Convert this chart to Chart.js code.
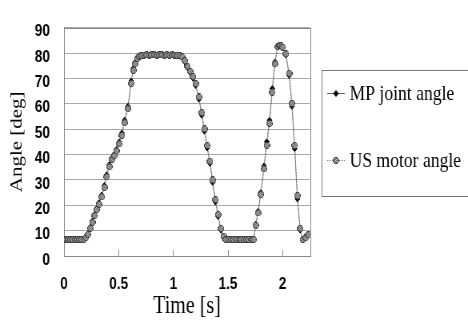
<!DOCTYPE html>
<html>
<head>
<meta charset="utf-8">
<script src="https://cdn.jsdelivr.net/npm/chart.js@4"></script>
<style>
  body { margin: 0; background: #fff; overflow: hidden; }
  /* the original figure is squeezed sideways, so draw wider and squeeze */
  #chart { transform: scaleX(0.8); transform-origin: 0 0; }
</style>
</head>
<body>
<canvas id="chart" width="585" height="327"></canvas>
<script>
var times = [
  0, 0.02, 0.04, 0.06, 0.08, 0.10, 0.12, 0.14, 0.16, 0.18, 0.20,
  0.22, 0.24, 0.26, 0.28, 0.30, 0.32, 0.345, 0.37, 0.39, 0.415, 0.44,
  0.46, 0.48, 0.505, 0.53, 0.555, 0.585, 0.615, 0.635, 0.65, 0.67, 0.69,
  0.71, 0.73, 0.755, 0.78, 0.80, 0.825, 0.85, 0.87, 0.895, 0.92, 0.94,
  0.965, 0.99, 1.01, 1.035, 1.06,
  1.08, 1.105, 1.13, 1.155, 1.18, 1.205, 1.235, 1.26, 1.285, 1.31, 1.335,
  1.36, 1.385, 1.41, 1.435, 1.46,
  1.48, 1.505, 1.53, 1.55, 1.575, 1.60, 1.62, 1.645, 1.67, 1.69, 1.715, 1.735,
  1.755, 1.775, 1.80, 1.83, 1.855, 1.88, 1.905, 1.93, 1.955, 1.97, 1.985,
  2.0, 2.03, 2.06, 2.085, 2.11, 2.135, 2.16, 2.185, 2.21, 2.235
];
var mpAngle = [
  6.5, 6.5, 6.5, 6.5, 6.5, 6.5, 6.5, 6.5, 6.5, 6.6, 7.4,
  8.8, 11.3, 13.8, 16.4, 18.8, 21, 24, 27.8, 32, 36, 38.8,
  40.2, 42, 45, 48.5, 53.5, 59, 69, 74, 76.3, 78.2, 79,
  79.1, 79.2, 79.3, 79.2, 79.3, 79.3, 79.2, 79.3, 79.3, 79.2, 79.3,
  79.2, 79.3, 79.2, 79, 78.8,
  78.2, 76.5, 74.2, 72.2, 70.1, 67.2, 61.8, 55.5, 49.2, 42.6, 36.5,
  29, 21.3, 15.6, 10.2, 7.4,
  6.4, 6.4, 6.4, 6.4, 6.4, 6.4, 6.4, 6.4, 6.4, 6.4, 6.4, 6.6,
  12.6, 17.6, 25, 35.5, 45, 53.5, 66, 76.5, 82.7, 83, 82.8,
  82.1, 79.2, 71.2, 59, 42.3, 22.5, 10.2, 6.5, 7.2, 8.4
];
var usAngle = [
  6.5, 6.5, 6.5, 6.5, 6.5, 6.5, 6.5, 6.5, 6.5, 6.5, 7.2,
  8.5, 10.9, 13.3, 15.9, 18.3, 20.4, 23.3, 27, 31.2, 35.2, 38.1,
  39.5, 41.4, 44.2, 47.5, 52.5, 58, 68, 73.2, 75.7, 77.8, 78.8,
  79, 79.2, 79.3, 79.2, 79.3, 79.3, 79.2, 79.3, 79.3, 79.2, 79.3,
  79.2, 79.3, 79.2, 79.1, 79,
  78.5, 77, 74.8, 72.8, 70.8, 68, 62.7, 56.5, 50.1, 43.6, 37.4,
  30, 22.2, 16.4, 10.9, 7.8,
  6.5, 6.5, 6.5, 6.5, 6.5, 6.5, 6.5, 6.5, 6.5, 6.5, 6.5, 6.5,
  12.1, 17, 24.2, 34.3, 43.6, 52.2, 64.6, 75.7, 82.5, 83, 82.8,
  82.3, 79.7, 72, 60.2, 43.6, 23.8, 10.9, 6.5, 7.2, 8.4
];
var seriesLabels = ['MP joint angle', 'US motor angle'];
var xTicks = [0, 0.5, 1, 1.5, 2];
var yTicks = [0, 10, 20, 30, 40, 50, 60, 70, 80, 90];

function toPoints(values) {
    return times.map(function(t, i) { return { x: t, y: values[i] }; });
}

// little checkered disc, like the grey markers of the original
function makeMarker() {
    var c = document.createElement('canvas');
    c.width = 8;
    c.height = 7;
    var g = c.getContext('2d');
    for (var y = 0; y < 7; y++) {
        for (var x = 0; x < 8; x++) {
            var dx = (x + 0.5 - 4) / 4, dy = (y + 0.5 - 3.5) / 3.5;
            var d = dx * dx + dy * dy;
            if (d > 1.05) continue;
            g.fillStyle = d > 0.55 ? '#404040' : ((x + y) % 2 ? '#505050' : '#c8c8c8');
            g.fillRect(x, y, 1, 1);
        }
    }
    return c;
}

var frame = {
    id: 'frame',
    beforeDatasetsDraw: function(chart) {
        var a = chart.chartArea, ctx = chart.ctx;
        ctx.save();
        ctx.strokeStyle = '#888';
        ctx.lineWidth = 1;
        ctx.strokeRect(Math.round(a.left) + 0.5, Math.round(a.top) + 0.5,
            Math.round(a.width), Math.round(a.height));
        ctx.restore();
    }
};

var legendRows = [93, 160];
var boxLegend = {
    id: 'boxLegend',
    afterDraw: function(chart) {
        var ctx = chart.ctx;
        ctx.save();
        ctx.strokeStyle = '#777';
        ctx.lineWidth = 1;
        ctx.strokeRect(402.5, 70.5, 260, 126);
        chart.data.datasets.forEach(function(ds, i) {
            var y = legendRows[i] + 0.5;
            ctx.strokeStyle = ds.borderColor;
            ctx.lineWidth = 1;
            ctx.setLineDash(ds.borderDash || []);
            ctx.beginPath();
            ctx.moveTo(409, y);
            ctx.lineTo(431, y);
            ctx.stroke();
            ctx.setLineDash([]);
            ctx.fillStyle = ds.pointBackgroundColor;
            ctx.strokeStyle = ds.pointBorderColor;
            ctx.lineWidth = 1;
            Chart.helpers.drawPoint(ctx, {
                pointStyle: ds.pointStyle, radius: ds.pointRadius, rotation: 0, borderWidth: 1
            }, 420, y);
            ctx.fillStyle = '#000';
            ctx.font = '22px "Liberation Serif"';
            ctx.textBaseline = 'alphabetic';
            ctx.fillText(ds.label, 437, y + 6);
        });
        ctx.restore();
    }
};

var canvas = document.getElementById('chart');
var marker = makeMarker();
var config = {
    type: 'line',
    data: {
        datasets: [{
            label: seriesLabels[0],
            data: toPoints(mpAngle),
            order: 1,
            borderColor: '#666',
            borderWidth: 0.8,
            pointStyle: 'rectRot',
            pointRadius: 3,
            pointBackgroundColor: '#000',
            pointBorderColor: '#000',
            pointBorderWidth: 1
        }, {
            label: seriesLabels[1],
            data: toPoints(usAngle),
            order: 0,
            borderColor: '#777',
            borderWidth: 1,
            borderDash: [1.5, 1.5],
            pointStyle: marker,
            pointRadius: 3,
            pointBackgroundColor: '#999',
            pointBorderColor: '#444'
        }]
    },
    options: {
        responsive: false,
        animation: false,
        devicePixelRatio: 1,
        layout: {
            padding: { top: 13, right: 197.5, bottom: 0, left: 0 }
        },
        plugins: {
            legend: { display: false },
            tooltip: { enabled: false }
        },
        scales: {
            x: {
                type: 'linear',
                min: 0,
                max: 2.25,
                afterBuildTicks: function(scale) {
                    scale.ticks = xTicks.map(function(v) { return { value: v }; });
                },
                afterFit: function(scale) { scale.height = 71; },
                grid: {
                    drawOnChartArea: false,
                    tickLength: -6,
                    color: '#888'
                },
                border: { color: '#888' },
                ticks: {
                    padding: 24,
                    maxRotation: 0,
                    color: '#000',
                    font: { family: 'Liberation Sans', weight: 'bold', size: 17 },
                    callback: function(value) { return String(value); }
                },
                title: {
                    display: true,
                    text: 'Time [s]',
                    color: '#000',
                    font: { family: 'Liberation Serif', size: 25 },
                    padding: { top: 0, bottom: 6 }
                }
            },
            y: {
                min: 0,
                max: 90,
                afterBuildTicks: function(scale) {
                    scale.ticks = yTicks.map(function(v) { return { value: v }; });
                },
                afterFit: function(scale) { scale.width = 80; },
                grid: {
                    color: '#a8a8a8',
                    drawTicks: false
                },
                border: { color: '#888' },
                ticks: {
                    padding: 17.5,
                    labelOffset: 4,
                    color: '#000',
                    font: { family: 'Liberation Sans', weight: 'bold', size: 17 }
                },
                title: {
                    display: true,
                    text: 'Angle [deg]',
                    color: '#000',
                    font: { family: 'Liberation Serif', size: 21 },
                    padding: { top: 9, bottom: 0 }
                }
            }
        }
    },
    plugins: [frame, boxLegend]
};
var chart = new Chart(canvas, config);
</script>
</body>
</html>
